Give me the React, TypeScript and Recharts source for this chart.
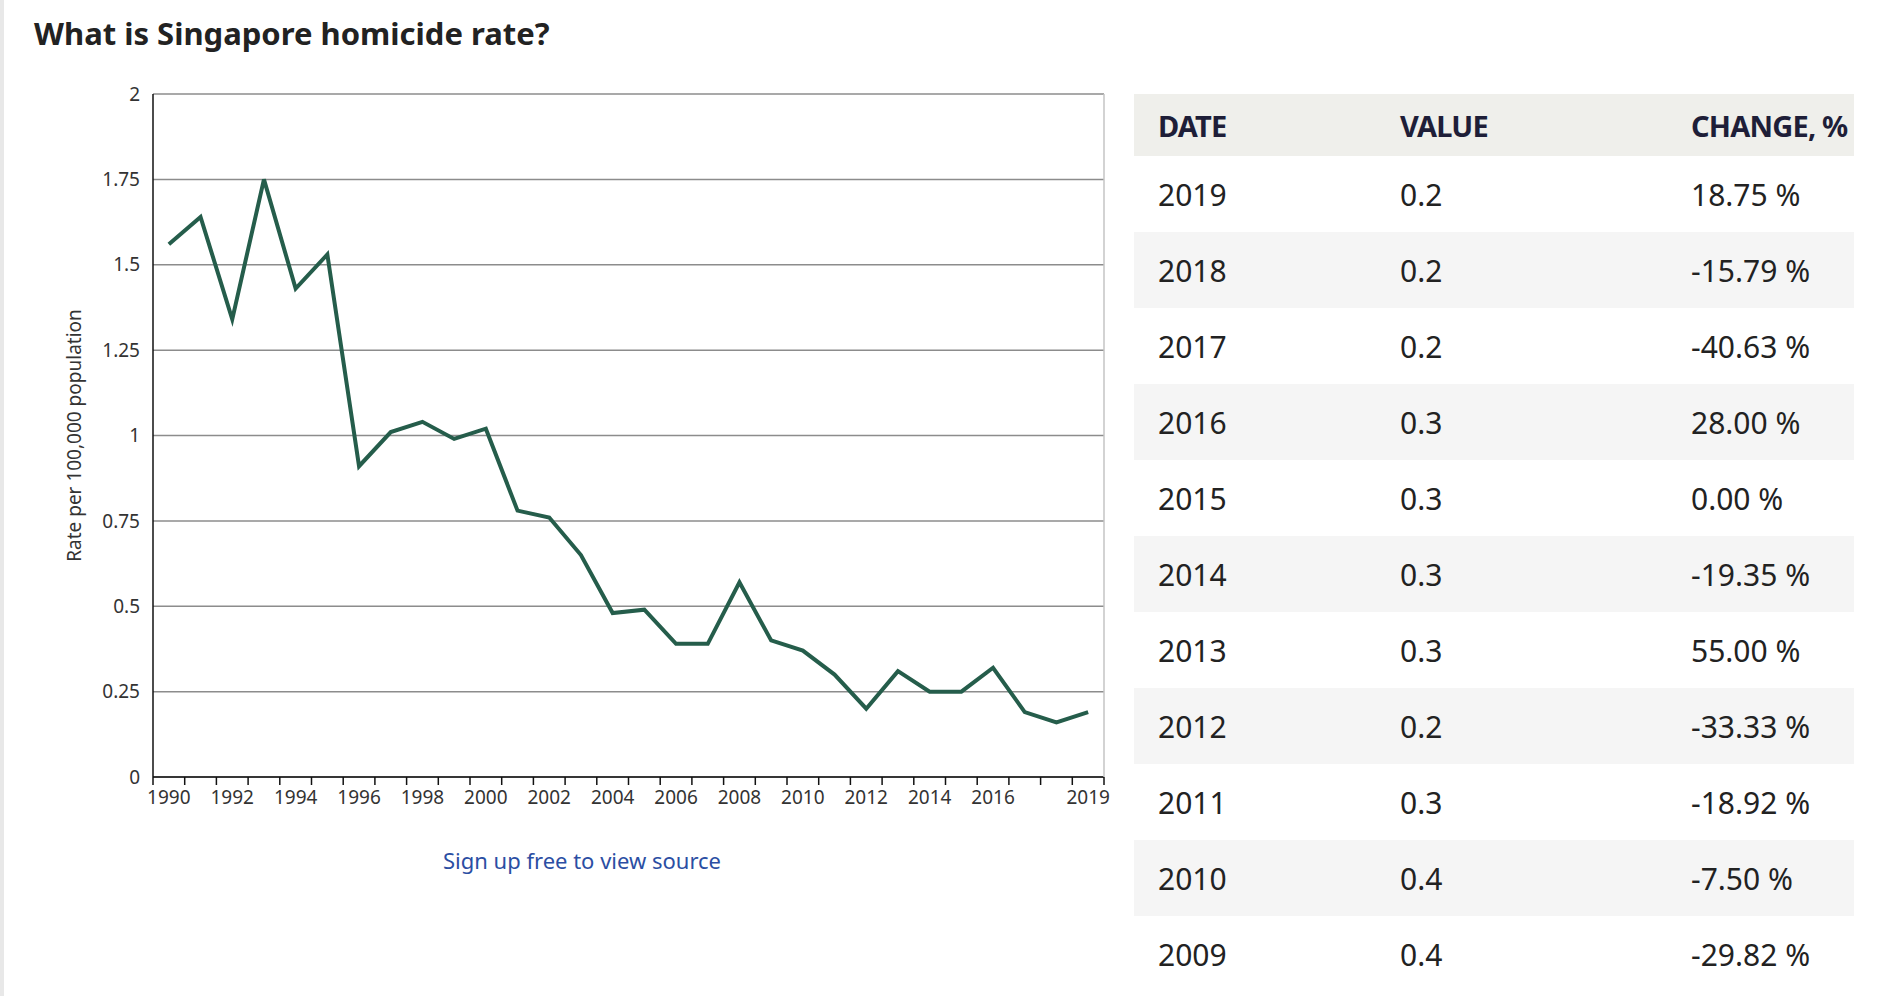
import { LineChart, Line, XAxis, YAxis, CartesianGrid } from 'recharts';

const years = [
  1990, 1991, 1992, 1993, 1994, 1995, 1996, 1997, 1998, 1999,
  2000, 2001, 2002, 2003, 2004, 2005, 2006, 2007, 2008, 2009,
  2010, 2011, 2012, 2013, 2014, 2015, 2016, 2017, 2018, 2019,
];
const rates = [
  1.56, 1.64, 1.34, 1.75, 1.43, 1.53, 0.91, 1.01, 1.04, 0.99,
  1.02, 0.78, 0.76, 0.65, 0.48, 0.49, 0.39, 0.39, 0.57, 0.4,
  0.37, 0.3, 0.2, 0.31, 0.25, 0.25, 0.32, 0.19, 0.16, 0.19,
];
const labelYears = [1990, 1992, 1994, 1996, 1998, 2000, 2002, 2004, 2006, 2008, 2010, 2012, 2014, 2016, 2019];
const yTicks = [0, 0.25, 0.5, 0.75, 1, 1.25, 1.5, 1.75, 2];

const tableYears = ['2019', '2018', '2017', '2016', '2015', '2014', '2013', '2012', '2011', '2010', '2009'];
const tableValues = ['0.2', '0.2', '0.2', '0.3', '0.3', '0.3', '0.3', '0.2', '0.3', '0.4', '0.4'];
const tableChanges = ['18.75 %', '-15.79 %', '-40.63 %', '28.00 %', '0.00 %', '-19.35 %', '55.00 %', '-33.33 %', '-18.92 %', '-7.50 %', '-29.82 %'];

const data = years.map((year, i) => ({ year, rate: rates[i] }));
// band edges, so tick marks sit between the years and labels in the middle
const bandEdges = [...years.map((y) => y - 0.5), years[years.length - 1] + 0.5];
const xDomain = [bandEdges[0], bandEdges[bandEdges.length - 1]];

const font = "'Noto Sans', sans-serif";
const tickStyle = { fill: '#333', fontSize: 19, fontFamily: font };

function Table() {
  return (
    <div style={{ position: 'absolute', left: 1134, top: 94, width: 720, fontFamily: font }}>
      <div style={{ display: 'flex', alignItems: 'center', height: 62, background: '#efefeb', color: '#1e1e38', fontWeight: 700, fontSize: 29, letterSpacing: -0.8 }}>
        <div style={{ width: 266, paddingLeft: 24, boxSizing: 'border-box' }}>DATE</div>
        <div style={{ width: 291 }}>VALUE</div>
        <div>CHANGE, %</div>
      </div>
      {tableYears.map((yr, i) => (
        <div key={yr} style={{ display: 'flex', alignItems: 'center', height: 76, background: i % 2 ? '#f5f5f5' : '#fff', color: '#222', fontSize: 30 }}>
          <div style={{ width: 266, paddingLeft: 24, boxSizing: 'border-box' }}>{yr}</div>
          <div style={{ width: 291 }}>{tableValues[i]}</div>
          <div>{tableChanges[i]}</div>
        </div>
      ))}
    </div>
  );
}

export default function App() {
  return (
    <div style={{ position: 'relative', width: 1884, height: 996, background: '#fff', overflow: 'hidden' }}>
      <style>{'body{margin:0}'}</style>
      <div style={{ position: 'absolute', left: 0, top: 0, width: 4, height: 996, background: '#e8e8e8' }} />
      <div style={{ position: 'absolute', left: 34, top: 18, fontFamily: font, fontWeight: 700, fontSize: 31, lineHeight: '31px', color: '#222' }}>
        What is Singapore homicide rate?
      </div>

      <div style={{ position: 'absolute', left: 0, top: 0 }}>
        <LineChart width={1120} height={830} data={data} margin={{ top: 94, right: 15, left: 0, bottom: 22 }}>
          <CartesianGrid xAxisId="labels" yAxisId="left" vertical={false} stroke="#8c8c8c" strokeWidth={1.5} />
          <XAxis
            xAxisId="edges"
            type="number"
            dataKey="year"
            domain={xDomain}
            ticks={bandEdges}
            interval={0}
            tickFormatter={() => ''}
            tickSize={8}
            tickLine={{ stroke: '#111', strokeWidth: 1.5 }}
            axisLine={{ stroke: '#111', strokeWidth: 1.5 }}
            height={1}
          />
          <XAxis
            xAxisId="labels"
            type="number"
            dataKey="year"
            domain={xDomain}
            ticks={labelYears}
            interval={0}
            tick={tickStyle}
            tickLine={false}
            axisLine={false}
            tickSize={0}
            tickMargin={13}
            height={30}
          />
          <YAxis
            yAxisId="left"
            width={153}
            domain={[0, 2]}
            ticks={yTicks}
            interval={0}
            tick={tickStyle}
            tickLine={false}
            tickSize={0}
            tickMargin={13}
            axisLine={{ stroke: '#111', strokeWidth: 1.5 }}
            label={{
              value: 'Rate per 100,000 population',
              angle: -90,
              position: 'center',
              dx: -2,
              style: { fill: '#333', fontSize: 19, fontFamily: font },
            }}
          />
          <YAxis
            yAxisId="right"
            orientation="right"
            width={1}
            domain={[0, 2]}
            tick={false}
            tickLine={false}
            axisLine={{ stroke: '#c4c4c4', strokeWidth: 1.5 }}
          />
          <Line
            xAxisId="labels"
            yAxisId="left"
            type="linear"
            dataKey="rate"
            stroke="#255d4b"
            strokeWidth={4}
            dot={false}
            activeDot={false}
            isAnimationActive={false}
          />
        </LineChart>
      </div>

      <div style={{ position: 'absolute', left: 332, top: 844, width: 500, textAlign: 'center', fontFamily: font, fontSize: 22, lineHeight: '32px', color: '#2b4ea3' }}>
        Sign up free to view source
      </div>

      <Table />
    </div>
  );
}
